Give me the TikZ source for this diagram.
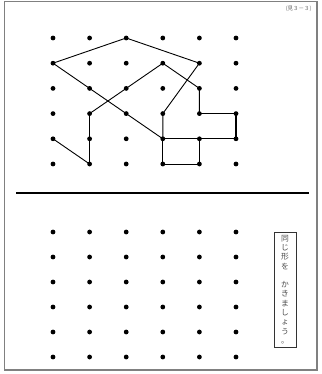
\documentclass[tikz,border=0pt]{standalone}
\usepackage{fontspec}
\newfontfamily\jpfont{Noto Sans CJK JP}
\usetikzlibrary{positioning}
\tikzset{dot/.style={circle,fill=black,inner sep=0pt,minimum size=4.8pt},ln/.style={line width=0.9pt,line join=round},thk/.style={line width=1.7pt,line join=round},lab/.style={font=\jpfont\fontsize{7.8}{9.3}\selectfont,align=center,inner sep=0pt,text=black!70}}

\begin{document}
\begin{tikzpicture}[x=1pt,y=-1pt]
\useasboundingbox (0,0) rectangle (321,374);
\draw[gray,line width=1.4pt] (4.5,1.5) rectangle (317,370);
\node[anchor=east,font=\jpfont\fontsize{5.5}{6}\selectfont,text=black!60] (head) at (315,9) {(見３－３)};
\foreach \i in {0,...,5}{\foreach \j in {0,...,5}{\node[dot] (t\i\j) at ({53+36.6*\i},{38+25.2*\j}) {};}}
\foreach \i in {0,...,5}{\foreach \j in {0,...,5}{\node[dot] (b\i\j) at ({53+36.6*\i},{232+25*\j}) {};}}
\draw[ln] (t01.center) -- (t20.center) -- (t41.center) -- (t33.center) -- (t34.center);
\draw[ln] (t01.center) -- (t34.center);
\draw[ln] (t04.center) -- (t15.center);
\draw[thk] (t15.center) -- (t13.center);
\draw[ln] (t13.center) -- (t31.center) -- (t42.center) -- (t43.center);
\draw[thk] (t43.center) -- (t53.center) -- (t54.center);
\draw[ln] (t54.center) -- (t34.center);
\draw[ln] (t44.center) -- (t45.center) -- (t35.center) -- (t34.center);
\coordinate (sepl) at (16,193);
\coordinate (sepr) at (309,193);
\draw[line width=1.8pt] (sepl) -- (sepr);
\node[draw=black!80,line width=0.7pt,minimum width=22pt,minimum height=115pt] (note) at (285,289.5) {};
\node[lab] (notetxt) at (note) {同\\じ\\形\\を\\\mbox{}\\か\\き\\ま\\し\\ょ\\う\\。};
\end{tikzpicture}
\end{document}
